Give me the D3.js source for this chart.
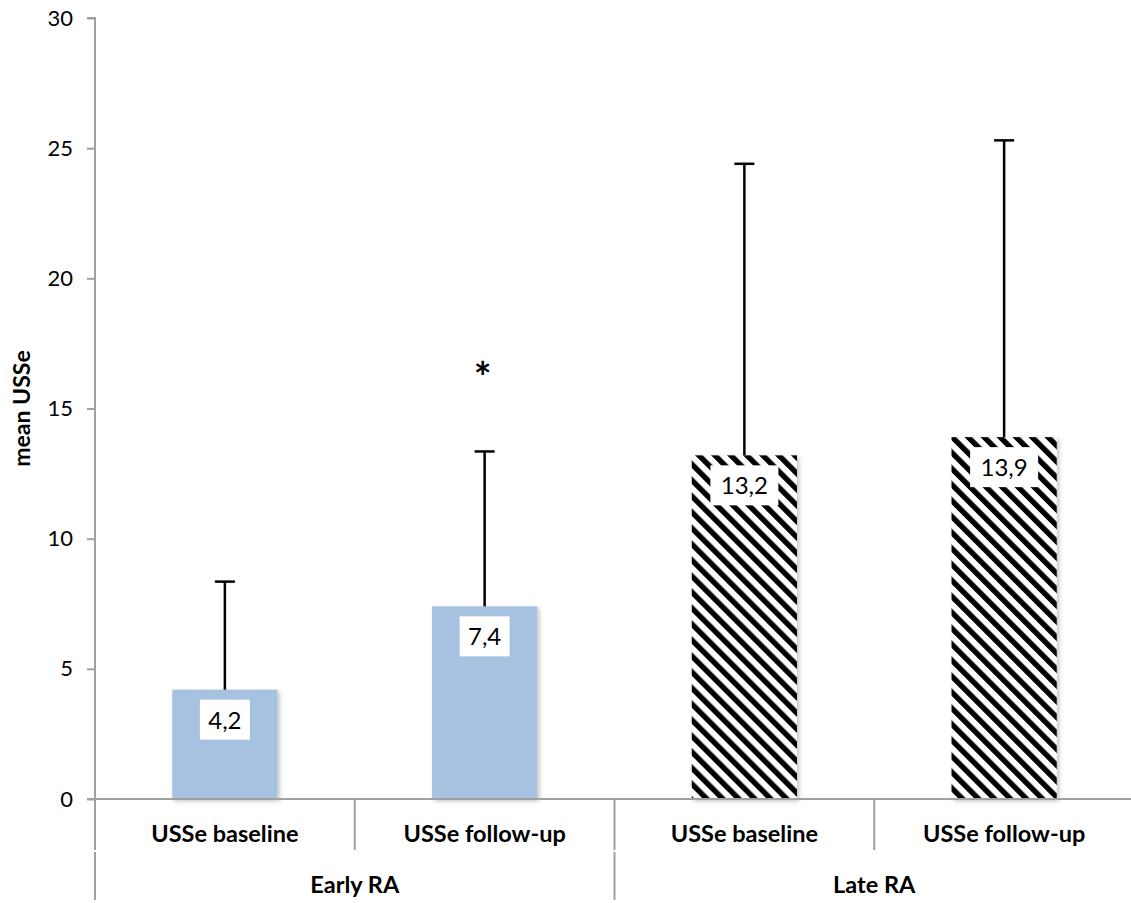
<!DOCTYPE html>
<html>
<head>
<meta charset="utf-8">
<script src="https://cdn.jsdelivr.net/npm/d3@7"></script>
<style>
  body { margin: 0; background: #fff; }
  text { font-family: Lato, "Open Sans", sans-serif; }
</style>
</head>
<body>
<script>
const groups = ['Early RA', 'Late RA'];
const categories = ['USSe baseline', 'USSe follow-up', 'USSe baseline', 'USSe follow-up'];
const groupOf = [0, 0, 1, 1];
const means = [4.2, 7.4, 13.2, 13.9];
const errTops = [8.35, 13.35, 24.4, 25.3];
const valueLabels = ['4,2', '7,4', '13,2', '13,9'];
const yTicks = [0, 5, 10, 15, 20, 25, 30];

const width = 1131, height = 903;
const plotL = 95, plotR = 1134, plotT = 18, plotB = 799;

const svg = d3.select('body').append('svg')
  .attr('width', width)
  .attr('height', height);

const defs = svg.append('defs');
const pat = defs.append('pattern')
  .attr('id', 'hatch')
  .attr('patternUnits', 'userSpaceOnUse')
  .attr('width', 11.3)
  .attr('height', 11.3)
  .attr('patternTransform', 'rotate(-45)');
pat.append('rect').attr('width', 11.3).attr('height', 11.3).attr('fill', '#fff');
pat.append('rect').attr('width', 5.4).attr('height', 11.3).attr('fill', '#000');

const shadow = defs.append('filter').attr('id', 'shadow')
  .attr('x', '-10%').attr('y', '-10%').attr('width', '130%').attr('height', '130%');
shadow.append('feDropShadow')
  .attr('dx', 2).attr('dy', 2).attr('stdDeviation', 2)
  .attr('flood-color', '#000').attr('flood-opacity', 0.25);

const idx = d3.range(categories.length);
const x = d3.scaleBand().domain(idx).range([plotL, plotR]).paddingInner(0).paddingOuter(0);
const y = d3.scaleLinear().domain([0, 30]).range([plotB, plotT]);
const barW = x.bandwidth() * 0.405;

// y axis
const yAxis = svg.append('g')
  .attr('transform', `translate(${plotL},0)`)
  .call(d3.axisLeft(y).tickValues(yTicks).tickSize(8).tickPadding(14));
yAxis.select('.domain').attr('stroke', '#a0a0a0').attr('stroke-width', 2)
  .attr('d', `M-8,${plotT}H0V${plotB}`);
yAxis.selectAll('.tick line').attr('stroke', '#a0a0a0').attr('stroke-width', 2);
yAxis.selectAll('.tick text').attr('font-size', 22).attr('fill', '#000')
  .style('font-family', 'Lato, "Open Sans", sans-serif');

svg.append('text')
  .attr('transform', `translate(30,${(plotT + plotB) / 2}) rotate(-90)`)
  .attr('text-anchor', 'middle')
  .attr('font-size', 23)
  .attr('font-weight', 'bold')
  .text('mean USSe');

// bars
svg.selectAll('rect.bar')
  .data(idx)
  .enter().append('rect')
  .attr('class', 'bar')
  .attr('x', i => x(i) + (x.bandwidth() - barW) / 2)
  .attr('y', i => y(means[i]))
  .attr('width', barW)
  .attr('height', i => y(0) - y(means[i]))
  .attr('fill', i => groupOf[i] === 0 ? '#a7c1e0' : 'url(#hatch)')
  .attr('filter', 'url(#shadow)');

// error bars
const cx = i => x(i) + x.bandwidth() / 2;
svg.selectAll('line.err')
  .data(idx)
  .enter().append('line')
  .attr('x1', cx).attr('x2', cx)
  .attr('y1', i => y(means[i])).attr('y2', i => y(errTops[i]))
  .attr('stroke', '#000').attr('stroke-width', 2.5);
svg.selectAll('line.cap')
  .data(idx)
  .enter().append('line')
  .attr('x1', i => cx(i) - 10).attr('x2', i => cx(i) + 10)
  .attr('y1', i => y(errTops[i])).attr('y2', i => y(errTops[i]))
  .attr('stroke', '#000').attr('stroke-width', 2.5);

// value labels
const lab = svg.selectAll('g.lab')
  .data(idx)
  .enter().append('g')
  .attr('transform', i => `translate(${cx(i)},${y(means[i]) + 10})`);
lab.append('rect')
  .attr('x', i => valueLabels[i].length > 3 ? -34 : -25)
  .attr('width', i => valueLabels[i].length > 3 ? 68 : 50)
  .attr('height', 40)
  .attr('fill', '#fff');
lab.append('text')
  .attr('y', 29)
  .attr('text-anchor', 'middle')
  .attr('font-size', 24)
  .text(i => valueLabels[i]);

// significance mark
svg.append('text')
  .attr('x', cx(1) - 2)
  .attr('y', y(errTops[1]) - 58)
  .attr('text-anchor', 'middle')
  .attr('font-size', 42)
  .attr('font-weight', 'bold')
  .text('*');

// x axis
svg.append('line')
  .attr('x1', plotL - 8).attr('x2', width)
  .attr('y1', plotB).attr('y2', plotB)
  .attr('stroke', '#a0a0a0').attr('stroke-width', 2);

svg.selectAll('line.sep')
  .data(idx)
  .enter().append('line')
  .attr('x1', i => x(i)).attr('x2', i => x(i))
  .attr('y1', plotB).attr('y2', 850)
  .attr('stroke', '#a0a0a0').attr('stroke-width', 2);

svg.selectAll('text.cat')
  .data(idx)
  .enter().append('text')
  .attr('x', cx)
  .attr('y', 842)
  .attr('text-anchor', 'middle')
  .attr('font-size', 23.5)
  .attr('font-weight', 'bold')
  .text(i => categories[i]);

const gx = d3.scaleBand().domain(d3.range(groups.length)).range([plotL, plotR]);
svg.selectAll('line.gsep')
  .data(d3.range(groups.length))
  .enter().append('line')
  .attr('x1', g => gx(g)).attr('x2', g => gx(g))
  .attr('y1', 852).attr('y2', 900)
  .attr('stroke', '#a0a0a0').attr('stroke-width', 2);
svg.selectAll('text.grp')
  .data(d3.range(groups.length))
  .enter().append('text')
  .attr('x', g => gx(g) + gx.bandwidth() / 2)
  .attr('y', 893)
  .attr('text-anchor', 'middle')
  .attr('font-size', 23.5)
  .attr('font-weight', 'bold')
  .text(g => groups[g]);
</script>
</body>
</html>
